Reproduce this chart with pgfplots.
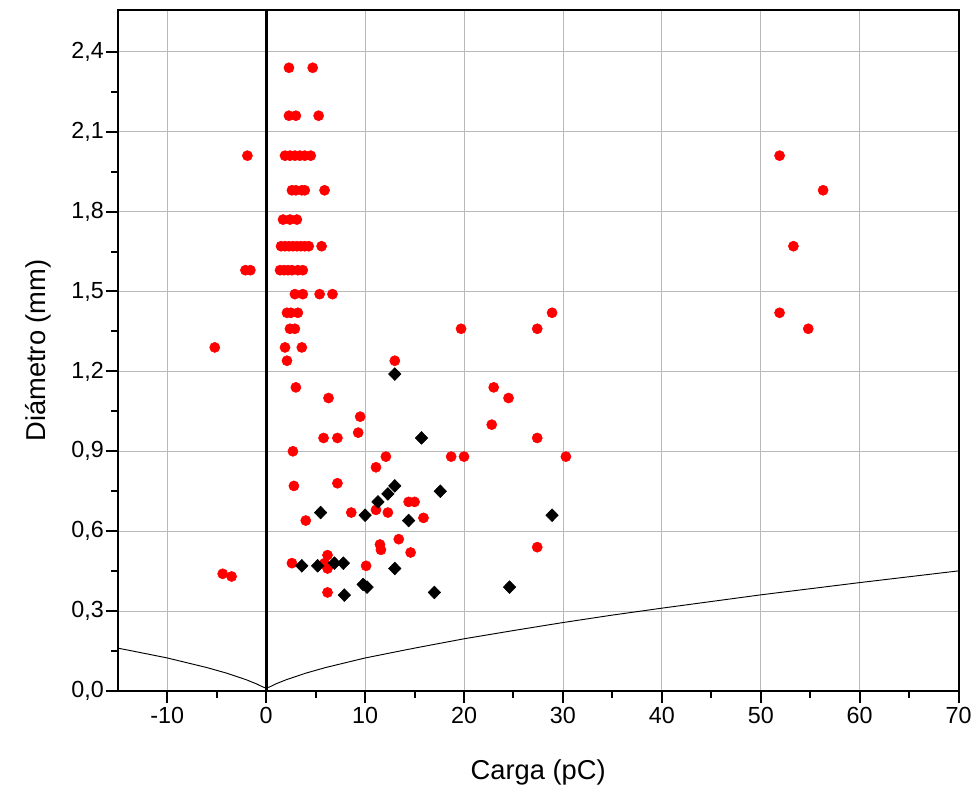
\documentclass[border=0pt]{standalone}
\usepackage{fontspec}
\setmainfont{Liberation Sans}
\usepackage{pgfplots}
\pgfplotsset{compat=1.18}
\begin{document}
\begin{tikzpicture}
\begin{axis}[
  scale only axis,
  width=631.5pt, height=511.5pt,
  xmin=-15, xmax=70, ymin=0, ymax=2.557,
  xtick={-10,0,10,20,30,40,50,60,70},
  ytick={0,0.3,0.6,0.9,1.2,1.5,1.8,2.1,2.4},
  minor x tick num=1, minor y tick num=1,
  tick align=outside, tick pos=left,
  major tick length=9pt, minor tick length=5pt,
  every tick/.style={black, line width=1.5pt},
  axis line style={black, line width=1.5pt},
  grid=major,
  major grid style={gray!55, line width=0.6pt},
  /pgf/number format/assume math mode=true,
  yticklabel style={xshift=2pt, /pgf/number format/.cd, use comma, fixed, fixed zerofill, precision=1},
  xticklabel style={/pgf/number format/.cd, fixed, precision=0},
  ticklabel style={font=\fontsize{17.5}{20}\selectfont},
  xlabel={Carga (pC)}, ylabel={Diámetro (mm)},
  label style={font=\fontsize{20.5}{24}\selectfont},
  xlabel style={yshift=-20pt},
  ylabel style={yshift=8pt},
  clip=true,
]
\draw[black, line width=2pt] (axis cs:0,0) -- (axis cs:0,2.557);
\addplot[black, line width=0.7pt, no markers] coordinates {
(-15,0.161) (-12,0.139) (-10,0.124) (-8,0.106) (-6,0.088) (-4,0.067) (-2,0.042) (-1,0.027) (-0.5,0.018) (0,0.01)
(0.5,0.018) (1,0.027) (2,0.042) (4,0.067) (6,0.088) (8,0.106) (10,0.124) (15,0.161) (20,0.196) (25,0.227) (30,0.257)
(35,0.285) (40,0.311) (45,0.336) (50,0.361) (55,0.384) (60,0.407) (65,0.429) (70,0.451)
};
\addplot[only marks, mark=*, mark size=3.8pt, red, mark options={draw=red, fill=red}] coordinates {
(2.3,2.34) (4.7,2.34)
(2.3,2.16) (3.0,2.16) (5.3,2.16)
(-1.9,2.01) (1.9,2.01) (2.4,2.01) (2.9,2.01) (3.4,2.01) (3.9,2.01) (4.5,2.01)
(2.6,1.88) (3.0,1.88) (3.6,1.88) (3.9,1.88) (5.9,1.88)
(1.7,1.77) (2.4,1.77) (3.1,1.77)
(1.5,1.67) (1.9,1.67) (2.3,1.67) (2.7,1.67) (3.1,1.67) (3.5,1.67) (3.9,1.67) (4.3,1.67) (5.6,1.67)
(-2.1,1.58) (-1.6,1.58) (1.4,1.58) (1.8,1.58) (2.2,1.58) (2.6,1.58) (3.2,1.58) (3.7,1.58)
(2.9,1.49) (3.7,1.49) (5.4,1.49) (6.7,1.49)
(2.1,1.42) (2.5,1.42) (3.2,1.42)
(2.4,1.36) (2.9,1.36)
(-5.2,1.29) (1.9,1.29) (3.6,1.29)
(2.1,1.24)
(3.0,1.14) (6.3,1.10) (9.5,1.03) (9.3,0.97) (5.8,0.95) (7.2,0.95) (2.7,0.90) (12.1,0.88) (11.1,0.84)
(2.8,0.77) (7.2,0.78) (14.4,0.71) (15.0,0.71) (8.6,0.67) (11.1,0.68) (12.3,0.67) (15.9,0.65) (4.0,0.64)
(11.5,0.55) (11.6,0.53) (13.4,0.57) (14.6,0.52) (6.2,0.51) (2.6,0.48) (5.9,0.48) (6.2,0.46) (10.1,0.47)
(-4.4,0.44) (-3.5,0.43) (6.2,0.37)
(13.0,1.24) (19.7,1.36) (27.4,1.36) (28.9,1.42) (23.0,1.14) (24.5,1.10) (22.8,1.00) (27.4,0.95)
(18.7,0.88) (20.0,0.88) (30.3,0.88) (27.4,0.54)
(51.9,2.01) (56.3,1.88) (53.3,1.67) (51.9,1.42) (54.8,1.36)
};
\addplot[only marks, mark=diamond*, mark size=4.8pt, black, mark options={draw=black, fill=black, xscale=1.3}] coordinates {
(15.7,0.95) (13.0,1.19) (13.0,0.77) (12.3,0.74) (11.3,0.71) (5.5,0.67) (10.0,0.66) (14.4,0.64) (17.6,0.75)
(28.9,0.66) (3.6,0.47) (5.2,0.47) (6.9,0.48) (7.8,0.48) (7.9,0.36) (9.8,0.40) (10.2,0.39) (13.0,0.46)
(17.0,0.37) (24.6,0.39)
};
\end{axis}
\path (current axis.south west) ++(-88.5pt,-76.5pt) coordinate (bbA);
\path (current axis.north east) ++(12pt,7.5pt) coordinate (bbB);
\useasboundingbox (bbA) rectangle (bbB);
\end{tikzpicture}
\end{document}
